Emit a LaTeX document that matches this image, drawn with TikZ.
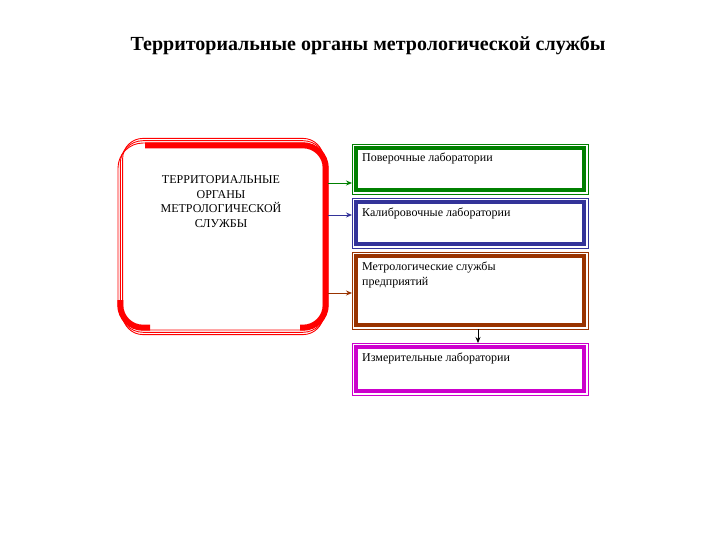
\documentclass[tikz,border=0pt]{standalone}
\usepackage{fontspec}
\setmainfont{Liberation Serif}
\usetikzlibrary{calc,arrows.meta,positioning}

\definecolor{labgreen}{RGB}{0,128,0}
\definecolor{labnavy}{RGB}{51,51,153}
\definecolor{labbrown}{RGB}{153,51,0}
\definecolor{labpurple}{RGB}{204,0,204}

\begin{document}
\begin{tikzpicture}[x=1pt,y=-1pt]
                % define styles
\tikzset{labbox/.style={rectangle,
                        draw=#1,
                        line width=3.5pt,
                        inner sep=0,
                        outer sep=0,
                        anchor=north west,
                        minimum width=228pt,
                        },
         labtext/.style={anchor=base west,
                        inner sep=0,
                        align=left,
                        font=\fontsize{12}{15}\selectfont,
                        },
         link/.style={-{Stealth[length=6pt,width=5pt]},
                        line width=0.9pt,
                        }
}

\useasboundingbox (0,0) rectangle (720,540);

% title
\node[font=\bfseries\fontsize{20}{24}\selectfont] (title) at (368,46)
    {Территориальные органы метрологической службы};

% main box
\node[rectangle, inner sep=0, outer sep=0, minimum width=210pt, minimum height=187pt]
    (organs) at (223,236.5) {};
\foreach \off/\rad in {0/25,2.3/22.7,4.6/20.4}
    \draw[red, line width=0.9pt, rounded corners=\rad pt]
        ([shift={(\off,-\off)}]organs.north west) rectangle ([shift={(-\off,\off)}]organs.south east);
\draw[red, line width=6pt, rounded corners=22.7pt]
    ($(organs.north west)+(27,2.3)$) -- ($(organs.north east)+(-2.3,2.3)$)
    -- ($(organs.south east)+(-2.3,-2.3)$) -- ($(organs.south east)+(-28,-2.3)$);
\draw[red, line width=6pt, rounded corners=22.7pt]
    ($(organs.south west)+(2.3,-30)$) -- ($(organs.south west)+(2.3,-2.3)$)
    -- ($(organs.south west)+(32,-2.3)$);
\node[align=center, inner sep=0, font=\fontsize{12}{14.6}\selectfont] (organstext) at (221,201.5)
    {ТЕРРИТОРИАЛЬНЫЕ\\ОРГАНЫ\\МЕТРОЛОГИЧЕСКОЙ\\СЛУЖБЫ};

% laboratory boxes (text baseline: last line, measured from the box top)
\foreach \name/\col/\top/\ht/\base/\txt in {verif/labgreen/148/42/14/{Поверочные лаборатории},
                                     calib/labnavy/202/42/14/{Калибровочные лаборатории},
                                     metro/labbrown/256/69/29/{Метрологические службы\\предприятий},
                                     meas/labpurple/347/44/14/{Измерительные лаборатории}}
{
    \node[labbox=\col, minimum height=\ht pt] (\name) at (356,\top) {};
    \draw[\col, line width=0.9pt] ([shift={(-4,-4)}]\name.north west) rectangle ([shift={(4,4)}]\name.south east);
    \node[labtext] (\name-t) at ([shift={(6,\base)}]\name.north west) {\txt};
}

% connectors
\draw[link, labgreen]  (organs.east |- 0,183) -- ([xshift=-4pt]verif.west |- 0,183);
\draw[link, labnavy]   (organs.east |- 0,215) -- ([xshift=-4pt]calib.west |- 0,215);
\draw[link, labbrown]  (organs.east |- 0,293) -- ([xshift=-4pt]metro.west |- 0,293);
\draw[-{Stealth[length=6pt,width=5pt]}, line width=0.7pt]
    ([yshift=-4pt]metro.south -| 478,0) -- ([yshift=4pt]meas.north -| 478,0);

\end{tikzpicture}
\end{document}
